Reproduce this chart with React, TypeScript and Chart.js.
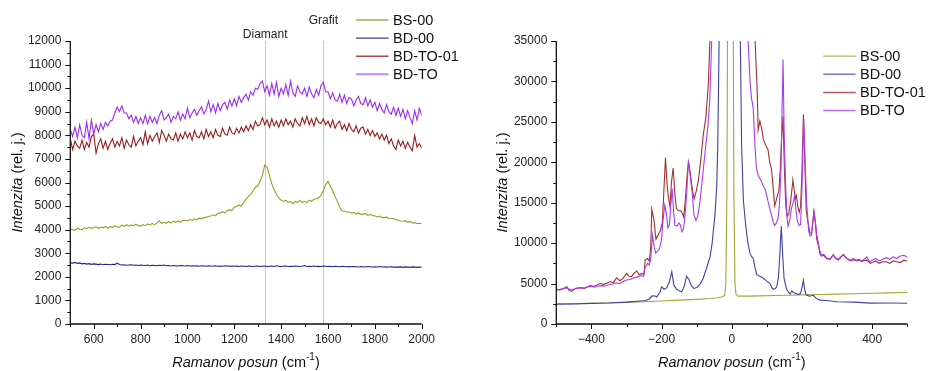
import React, { useEffect, useRef } from 'react';
import { Chart, registerables } from 'chart.js';
Chart.register(...registerables);

const FONT = '"Liberation Sans", Arial, sans-serif';

const seriesNames = ['BS-00', 'BD-00', 'BD-TO-01', 'BD-TO'];

// ---------- Left panel (Raman shift 500–2000) ----------
const leftX = Array.from({ length: 151 }, (_, i) => 500 + 10 * i);

const leftBS00 = [
  4050, 3990, 3980, 4070, 4010, 4000, 4090, 4040, 4110, 4050,
  4090, 4120, 4060, 4110, 4080, 4140, 4070, 4130, 4090, 4160,
  4120, 4100, 4190, 4140, 4210, 4150, 4200, 4160, 4230, 4170,
  4150, 4210, 4170, 4240, 4200, 4260, 4210, 4290, 4380, 4260,
  4310, 4270, 4340, 4290, 4360, 4310, 4370, 4320, 4390, 4400,
  4370, 4430, 4390, 4460, 4420, 4490, 4460, 4510, 4520, 4570,
  4580, 4630, 4590, 4690, 4700, 4760, 4710, 4810, 4840, 4820,
  4950, 4980, 5050, 5000, 5150, 5300, 5400, 5500, 5650, 5800,
  5850, 6050, 6300, 6750, 6650, 6300, 5950, 5700, 5500, 5350,
  5250, 5200, 5250, 5150, 5200, 5100, 5200, 5150, 5250, 5150,
  5200, 5150, 5250, 5200, 5300, 5300, 5350, 5450, 5650, 5900,
  6050, 5850, 5650, 5400, 5200, 4950, 4800, 4780, 4750, 4750,
  4700, 4730, 4670, 4710, 4650, 4660, 4690, 4610, 4650, 4590,
  4590, 4540, 4580, 4520, 4510, 4530, 4470, 4460, 4470, 4410,
  4410, 4370, 4360, 4380, 4310, 4350, 4290, 4290, 4260, 4270,
  4250,
];

const leftBD00 = [
  2600, 2580, 2610, 2570, 2590, 2550, 2570, 2540, 2560, 2530,
  2550, 2540, 2520, 2540, 2510, 2530, 2520, 2510, 2530, 2520,
  2580, 2520, 2500, 2510, 2490, 2500, 2510, 2490, 2500, 2480,
  2500, 2490, 2480, 2500, 2470, 2490, 2480, 2470, 2490, 2480,
  2500, 2470, 2480, 2460, 2480, 2470, 2460, 2480, 2470, 2460,
  2480, 2460, 2470, 2460, 2470, 2450, 2470, 2460, 2450, 2470,
  2460, 2450, 2470, 2450, 2460, 2450, 2470, 2460, 2450, 2460,
  2450, 2460, 2440, 2460, 2450, 2440, 2460, 2450, 2440, 2450,
  2460, 2440, 2450, 2460, 2440, 2450, 2460, 2440, 2470, 2450,
  2440, 2450, 2460, 2440, 2450, 2440, 2460, 2450, 2440, 2450,
  2480, 2440, 2450, 2440, 2460, 2440, 2450, 2440, 2460, 2450,
  2440, 2450, 2430, 2450, 2440, 2430, 2450, 2440, 2430, 2440,
  2430, 2440, 2430, 2420, 2440, 2430, 2420, 2440, 2430, 2420,
  2430, 2420, 2440, 2420, 2430, 2410, 2420, 2430, 2410, 2420,
  2410, 2420, 2400, 2420, 2410, 2400, 2420, 2410, 2400, 2410,
  2410,
];

const leftBDTO01 = [
  7850, 7400, 7750, 7550, 7450, 7800, 7400, 7700, 7500, 7950,
  8050, 7250, 7650, 7850, 7450, 7750, 7400, 7650, 7850, 7500,
  7750, 7550, 7900, 7450, 7800, 7600, 7500, 7950, 7550, 7750,
  7900, 7600, 8150, 7650, 8000, 7750, 7950, 8100, 7700, 8200,
  8000, 7750, 8050, 7850, 7800, 8100, 7750, 8050, 7850, 8150,
  7900, 8100, 7800, 8200, 7950, 7900, 8150, 7850, 8250, 7950,
  8150, 7900, 8250, 8000, 7950, 8300, 8050, 8000, 8350, 8100,
  8050, 8300, 8100, 8350, 8150, 8400, 8200, 8450, 8250, 8600,
  8400, 8450, 8750, 8450, 8650, 8350, 8700, 8400, 8600, 8350,
  8650, 8400, 8700, 8450, 8600, 8350, 8700, 8500, 8400, 8750,
  8500, 8800, 8450, 8700, 8400, 8750, 8550, 8500, 8700, 8450,
  8600, 8350, 8650, 8300, 8500, 8600, 8250, 8450, 8200, 8500,
  8250, 8150, 8400, 8100, 8300, 8350, 8050, 8250, 8000, 8200,
  7950, 8100, 7850, 8050, 7800, 8000, 7650, 7850, 7550, 7400,
  7800, 7550, 7750, 7450, 7700, 7500, 7350, 8000, 7500, 7650,
  7450,
];

const leftBDTO = [
  8250, 7950, 8350, 7900, 8450, 8000, 7900, 8550, 7850, 8650,
  8050, 8450, 8150, 8500, 8250, 8550, 8400, 8600, 8650, 8950,
  9200, 9000, 9250, 8950, 8950, 8700, 8850, 8550, 8800, 8500,
  8750, 8500, 8850, 8500, 8800, 8550, 8750, 8500, 8850, 9050,
  8650, 8750, 8900, 8550, 8800, 8700, 9000, 8650, 8900, 8700,
  9150, 8750, 8950, 9100, 8850, 9050, 9200, 8900, 9100, 9450,
  9000, 9300, 8950, 9350, 9050, 9300, 9400, 9100, 9500, 9250,
  9550, 9250, 9650, 9400, 9600, 9750, 9500, 9850, 9700, 10000,
  9950, 10200, 10300, 9850, 10100, 9700, 10200, 9750, 10250, 9650,
  10000, 9750, 10150, 9700, 10300, 9800, 9650, 10100, 9850, 9750,
  10000, 9650, 10050, 9750, 9600, 9950, 9700, 10100, 10250, 9850,
  9850, 9550, 9800, 9500, 9450, 9750, 9400, 9700, 9350, 9600,
  9550, 9250, 9500, 9650, 9350, 9300, 9600, 9250, 9500, 9200,
  9400, 9050, 9350, 9100, 8950, 9300, 9000, 8900, 9200, 8850,
  9150, 8800, 9100, 8700, 9050, 8750, 8500, 9050, 8650, 9150,
  8850,
];

const leftXTicks = [600, 800, 1000, 1200, 1400, 1600, 1800, 2000];
const leftXMinor = [500, 700, 900, 1100, 1300, 1500, 1700, 1900];
const leftYTicks = [0, 1000, 2000, 3000, 4000, 5000, 6000, 7000, 8000, 9000, 10000, 11000, 12000];
const leftYMinor = [500, 1500, 2500, 3500, 4500, 5500, 6500, 7500, 8500, 9500, 10500, 11500];
const markerLabels = ['Diamant', 'Grafit'];
const markerPositions = [1332, 1580];

// ---------- Right panel (Raman shift −500–500) ----------
const rightBS00: [number, number][] = [
  [-500, 2500], [-450, 2520], [-400, 2560], [-350, 2620], [-300, 2680], [-250, 2750], [-200, 2850],
  [-150, 2950], [-100, 3050], [-60, 3150], [-40, 3250], [-30, 3330], [-25, 3400], [-20, 3550],
  [-17, 5000], [-14, 16000], [-10, 60000], [-4, 200000], [2, 60000], [6, 16000], [9, 5000],
  [12, 3700], [16, 3500], [20, 3450], [40, 3450], [80, 3480], [120, 3520], [160, 3550],
  [200, 3600], [250, 3650], [300, 3700], [350, 3750], [400, 3800], [450, 3850], [500, 3900],
];

const rightBD00: [number, number][] = [
  [-500, 2450], [-450, 2480], [-400, 2550], [-350, 2600], [-300, 2700], [-260, 2850], [-245, 2900],
  [-235, 3100], [-228, 3450], [-220, 3500], [-214, 3350], [-205, 3900], [-200, 4600], [-193, 4300],
  [-185, 4500], [-178, 5200], [-171, 6450], [-165, 4800], [-157, 4300], [-150, 4100], [-143, 4000],
  [-136, 4600], [-129, 5900], [-122, 5500], [-115, 4700], [-108, 4400], [-100, 4500], [-91, 4900],
  [-82, 5600], [-72, 6900], [-62, 8300], [-56, 10000], [-52, 11800], [-48, 13500], [-43, 17000],
  [-40, 22000], [-36, 35500], [-30, 60000], [0, 250000], [24, 36000], [28, 22000], [33, 15300],
  [40, 12000], [46, 10000], [52, 8700], [57, 8300], [61, 8100], [66, 7000], [71, 6100],
  [80, 5900], [90, 5650], [100, 5300], [109, 5000], [114, 4500], [118, 4300], [124, 4400],
  [128, 4600], [133, 5800], [137, 8700], [141, 12100], [145, 8500], [149, 5600], [156, 4300],
  [162, 3900], [166, 3700], [171, 4100], [175, 3900], [182, 3800], [189, 3650], [196, 3800],
  [200, 4500], [204, 5400], [208, 4200], [212, 3600], [220, 3450], [227, 3500], [232, 3550],
  [240, 3200], [251, 2950], [270, 2900], [299, 2750], [350, 2700], [394, 2580], [450, 2600], [500, 2570],
];

const rightBDTO01: [number, number][] = [
  [-500, 4300], [-490, 4250], [-480, 4400], [-470, 4600], [-463, 4150], [-456, 4050], [-445, 4400],
  [-432, 4500], [-420, 4400], [-410, 4600], [-404, 4750], [-395, 4650], [-385, 4800], [-375, 5000],
  [-365, 4900], [-355, 5050], [-347, 5250], [-338, 5100], [-328, 5700], [-319, 5350], [-310, 5650],
  [-300, 6250], [-293, 5900], [-286, 5850], [-278, 6300], [-271, 6550], [-264, 6100], [-257, 6250],
  [-250, 6100], [-247, 7900], [-240, 8100], [-235, 7750], [-231, 9500], [-228, 14200], [-222, 12900],
  [-216, 10500], [-210, 11000], [-204, 11500], [-198, 12500], [-194, 16000], [-189, 20600], [-184, 17000],
  [-181, 15800], [-176, 14500], [-172, 17500], [-167, 19300], [-162, 16000], [-158, 14300], [-152, 14000],
  [-145, 14000], [-140, 13600], [-137, 13200], [-132, 15500], [-127, 18500], [-123, 20000], [-118, 18500],
  [-112, 16500], [-107, 15500], [-101, 16500], [-95, 17800], [-88, 20500], [-81, 23500], [-74, 25500],
  [-67, 29500], [-62, 35500], [-55, 50000], [0, 250000], [60, 50000], [66, 35500], [73, 28000],
  [75, 24000], [80, 25100], [85, 24200], [90, 22800], [94, 22400], [99, 21900], [103, 21600],
  [108, 20000], [113, 19200], [118, 16800], [122, 14600], [126, 15200], [130, 15900], [134, 16500],
  [138, 19000], [142, 23000], [146, 25700], [150, 19000], [154, 14500], [158, 13300], [162, 13600],
  [167, 15000], [171, 16500], [174, 17800], [178, 16500], [181, 15500], [184, 15900], [188, 14500],
  [192, 13800], [196, 14500], [200, 19000], [204, 25900], [208, 20000], [212, 14000], [217, 12600],
  [222, 11300], [227, 11200], [231, 12800], [234, 13900], [238, 12500], [242, 10500], [246, 9800],
  [251, 8700], [255, 8400], [262, 8500], [270, 8100], [280, 8000], [289, 8600], [296, 8100],
  [303, 7900], [310, 8200], [318, 8600], [325, 8200], [333, 7900], [340, 7800], [346, 7950],
  [355, 7800], [362, 7900], [370, 7700], [377, 7850], [384, 7900], [390, 7700], [394, 7500],
  [400, 7600], [410, 7800], [420, 7500], [430, 7700], [441, 7700], [450, 7500], [460, 7800],
  [470, 7700], [480, 7600], [490, 7900], [500, 7750],
];

const rightBDTO: [number, number][] = [
  [-500, 4250], [-490, 4200], [-480, 4350], [-470, 4450], [-463, 4300], [-456, 4200], [-445, 4400],
  [-432, 4500], [-420, 4450], [-410, 4600], [-400, 4650], [-390, 4550], [-380, 4700], [-370, 4750],
  [-360, 4700], [-350, 4850], [-340, 4950], [-330, 5100], [-320, 5000], [-310, 5250], [-300, 5450],
  [-290, 5500], [-280, 5700], [-270, 5800], [-260, 6000], [-252, 5900], [-247, 7000], [-240, 7500],
  [-235, 7300], [-231, 8000], [-226, 11000], [-221, 9500], [-217, 8800], [-212, 9000], [-206, 9300],
  [-200, 10500], [-196, 12800], [-191, 14700], [-186, 13500], [-182, 11900], [-178, 12200], [-174, 14500],
  [-170, 16800], [-166, 14000], [-162, 12200], [-156, 12100], [-151, 12500], [-147, 12300], [-142, 11400],
  [-138, 11700], [-134, 13000], [-128, 16500], [-124, 20200], [-119, 18500], [-113, 16300], [-108, 13500],
  [-102, 12800], [-97, 13300], [-91, 15000], [-85, 17500], [-76, 21300], [-68, 24500], [-63, 27500],
  [-57, 35500], [-50, 60000], [0, 250000], [40, 60000], [46, 35500], [52, 30000], [56, 28000],
  [61, 26700], [66, 22000], [70, 19300], [75, 18400], [80, 18000], [85, 17600], [90, 17000],
  [94, 16800], [99, 16000], [103, 15200], [108, 14300], [113, 13500], [118, 12600], [122, 12200],
  [127, 12500], [132, 13100], [136, 15000], [140, 19000], [143, 26000], [146, 32700], [149, 24000],
  [153, 17600], [157, 13500], [160, 12100], [165, 12800], [170, 14300], [175, 15000], [179, 15800],
  [183, 14000], [187, 12700], [192, 12200], [196, 12300], [200, 17000], [205, 25400], [209, 20000],
  [213, 15100], [219, 11500], [223, 10900], [227, 11000], [231, 12500], [234, 13900], [238, 12800],
  [242, 11000], [246, 10200], [251, 9000], [255, 8500], [262, 8600], [270, 8200], [280, 8000],
  [289, 8500], [296, 8200], [303, 8000], [310, 8300], [318, 8600], [325, 8200], [333, 8000],
  [340, 7900], [346, 8100], [355, 7900], [362, 8000], [370, 7800], [377, 8000], [384, 8300],
  [390, 7900], [394, 7700], [400, 7900], [410, 8100], [420, 7800], [430, 8000], [441, 8200],
  [450, 8000], [460, 8300], [470, 8100], [480, 8400], [490, 8500], [500, 8300],
];

const rightXTicks = [-400, -200, 0, 200, 400];
const rightXMinor = [-500, -300, -100, 100, 300, 500];
const rightYTicks = [0, 5000, 10000, 15000, 20000, 25000, 30000, 35000];
const rightYMinor = [2500, 7500, 12500, 17500, 22500, 27500, 32500];

type DS = { label: string; points: { x: number; y: number }[]; color: string; order: number };
type Cfg = {
  left: number;
  xMin: number; xMax: number; yMax: number;
  xTicks: number[]; xMinor: number[]; yTicks: number[]; yMinor: number[];
  yAxisWidth: number; padRight: number;
  datasets: DS[];
  legend: { x1: number; x2: number; tx: number; rows: number[]; colors: string[]; widths: number[] };
  yTitleX: number;
  markers?: { label: string; x: number; ty: number }[];
};

const fmt = (v: number) => (v < 0 ? '\u2212' + Math.abs(v) : String(v));

function overlay(cfg: Cfg) {
  return {
    id: 'overlay',
    beforeDatasetsDraw(chart: any) {
      const ctx = chart.ctx;
      const { top, bottom } = chart.chartArea;
      if (cfg.markers) {
        ctx.save();
        ctx.strokeStyle = '#c8c8c8';
        ctx.lineWidth = 1;
        for (const m of cfg.markers) {
          const p = Math.round(chart.scales.x.getPixelForValue(m.x)) + 0.5;
          ctx.beginPath();
          ctx.moveTo(p, top);
          ctx.lineTo(p, bottom);
          ctx.stroke();
        }
        ctx.restore();
      }
    },
    afterDraw(chart: any) {
      const ctx = chart.ctx;
      const { left, right, top, bottom } = chart.chartArea;
      const xs = chart.scales.x;
      const ys = chart.scales.y;
      ctx.save();
      ctx.strokeStyle = '#111';
      ctx.lineWidth = 1.3;
      ctx.beginPath();
      ctx.moveTo(left, top);
      ctx.lineTo(left, bottom);
      ctx.lineTo(right, bottom);
      ctx.stroke();
      ctx.lineWidth = 1;
      const tick = (x1: number, y1: number, x2: number, y2: number) => {
        ctx.beginPath();
        ctx.moveTo(x1, y1);
        ctx.lineTo(x2, y2);
        ctx.stroke();
      };
      for (const v of cfg.xTicks) {
        const p = Math.round(xs.getPixelForValue(v)) + 0.5;
        tick(p, bottom, p, bottom + 5);
      }
      for (const v of cfg.xMinor) {
        const p = Math.round(xs.getPixelForValue(v)) + 0.5;
        tick(p, bottom, p, bottom + 3);
      }
      for (const v of cfg.yTicks) {
        const p = Math.round(ys.getPixelForValue(v)) + 0.5;
        tick(left, p, left - 5, p);
      }
      for (const v of cfg.yMinor) {
        const p = Math.round(ys.getPixelForValue(v)) + 0.5;
        tick(left, p, left - 3, p);
      }
      ctx.fillStyle = '#111';
      ctx.save();
      ctx.translate(cfg.yTitleX, (top + bottom) / 2);
      ctx.rotate(-Math.PI / 2);
      ctx.textBaseline = 'middle';
      ctx.textAlign = 'left';
      const fi = `italic 14.5px ${FONT}`;
      const fn = `14.5px ${FONT}`;
      ctx.font = fi;
      const w1 = ctx.measureText('Intenzita').width;
      ctx.font = fn;
      const w2 = ctx.measureText(' (rel. j.)').width;
      const sx = -(w1 + w2) / 2;
      ctx.font = fi;
      ctx.fillText('Intenzita', sx, 0);
      ctx.font = fn;
      ctx.fillText(' (rel. j.)', sx + w1, 0);
      ctx.restore();
      const cy = 363;
      ctx.textBaseline = 'middle';
      ctx.textAlign = 'left';
      ctx.font = fi;
      const a = ctx.measureText('Ramanov posun').width;
      ctx.font = fn;
      const b = ctx.measureText(' (cm').width;
      const d = ctx.measureText(')').width;
      ctx.font = `10px ${FONT}`;
      const c = ctx.measureText('-1').width;
      let x0 = (left + right) / 2 - (a + b + c + d) / 2;
      ctx.font = fi;
      ctx.fillText('Ramanov posun', x0, cy);
      x0 += a;
      ctx.font = fn;
      ctx.fillText(' (cm', x0, cy);
      x0 += b;
      ctx.font = `10px ${FONT}`;
      ctx.fillText('-1', x0, cy - 6);
      x0 += c;
      ctx.font = fn;
      ctx.fillText(')', x0, cy);
      if (cfg.markers) {
        ctx.font = `12px ${FONT}`;
        ctx.textAlign = 'center';
        ctx.fillStyle = '#222';
        for (const m of cfg.markers) {
          ctx.fillText(m.label, xs.getPixelForValue(m.x), m.ty);
        }
      }
      const lg = cfg.legend;
      ctx.font = `14.5px ${FONT}`;
      ctx.textAlign = 'left';
      ctx.textBaseline = 'middle';
      seriesNames.forEach((name, i) => {
        const y = lg.rows[i];
        ctx.strokeStyle = lg.colors[i];
        ctx.lineWidth = lg.widths[i];
        tick(lg.x1, y + 0.5, lg.x2, y + 0.5);
        ctx.fillStyle = '#111';
        ctx.fillText(name, lg.tx, y + 1);
      });
      ctx.restore();
    },
  };
}

function Panel({ cfg }: { cfg: Cfg }) {
  const ref = useRef<HTMLCanvasElement>(null);
  useEffect(() => {
    const tickOpts = (pad: number) => ({
      color: '#222',
      font: { family: FONT, size: 12 },
      padding: pad,
      autoSkip: false,
      maxRotation: 0,
      minRotation: 0,
      callback: (v: any) => fmt(Number(v)),
    });
    const chart = new Chart(ref.current as HTMLCanvasElement, {
      type: 'line',
      data: {
        datasets: cfg.datasets.map((d) => ({
          label: d.label,
          data: d.points,
          borderColor: d.color,
          borderWidth: 1.1,
          pointRadius: 0,
          fill: false,
          tension: 0,
          order: d.order,
        })),
      },
      options: {
        responsive: false,
        animation: false,
        devicePixelRatio: 1,
        events: [],
        layout: { padding: { left: 0, top: 41, right: cfg.padRight, bottom: 0 } },
        plugins: { legend: { display: false }, tooltip: { enabled: false }, title: { display: false } },
        scales: {
          x: {
            type: 'linear',
            min: cfg.xMin,
            max: cfg.xMax,
            grid: { display: false, drawTicks: false },
            border: { display: false },
            ticks: tickOpts(8),
            afterBuildTicks: (s: any) => {
              s.ticks = cfg.xTicks.map((v) => ({ value: v }));
            },
            afterFit: (s: any) => {
              s.height = 47;
            },
          },
          y: {
            type: 'linear',
            min: 0,
            max: cfg.yMax,
            grid: { display: false, drawTicks: false },
            border: { display: false },
            ticks: tickOpts(9),
            afterBuildTicks: (s: any) => {
              s.ticks = cfg.yTicks.map((v) => ({ value: v }));
            },
            afterFit: (s: any) => {
              s.width = cfg.yAxisWidth;
            },
          },
        },
      } as any,
      plugins: [overlay(cfg)],
    });
    return () => chart.destroy();
  }, []);
  return (
    <canvas
      ref={ref}
      width={464}
      height={371}
      style={{ position: 'absolute', left: cfg.left, top: 0, width: 464, height: 371 }}
    />
  );
}

const toPts = (xs: number[], ys: number[]) => xs.map((x, i) => ({ x, y: ys[i] }));
const pairPts = (p: [number, number][]) => p.map(([x, y]) => ({ x, y }));

const leftCfg: Cfg = {
  left: 0,
  xMin: 500,
  xMax: 2000,
  yMax: 12000,
  xTicks: leftXTicks,
  xMinor: leftXMinor,
  yTicks: leftYTicks,
  yMinor: leftYMinor,
  yAxisWidth: 70.3,
  padRight: 42.3,
  datasets: [
    { label: seriesNames[0], points: toPts(leftX, leftBS00), color: '#9a9a2a', order: 3 },
    { label: seriesNames[1], points: toPts(leftX, leftBD00), color: '#22228e', order: 2 },
    { label: seriesNames[2], points: toPts(leftX, leftBDTO01), color: '#971b1b', order: 1 },
    { label: seriesNames[3], points: toPts(leftX, leftBDTO), color: '#9a2cf2', order: 0 },
  ],
  legend: {
    x1: 356, x2: 388.5, tx: 393,
    rows: [19.5, 37.7, 55.7, 73.7],
    colors: ['#a8a855', '#3a3aa0', '#b04848', '#c585ff'],
    widths: [1.3, 1.3, 1.5, 2],
  },
  yTitleX: 17.5,
  markers: [
    { label: markerLabels[0], x: markerPositions[0], ty: 34.5 },
    { label: markerLabels[1], x: markerPositions[1], ty: 20.5 },
  ],
};

const rightCfg: Cfg = {
  left: 464,
  xMin: -500,
  xMax: 500,
  yMax: 35000,
  xTicks: rightXTicks,
  xMinor: rightXMinor,
  yTicks: rightYTicks,
  yMinor: rightYMinor,
  yAxisWidth: 92.3,
  padRight: 20.7,
  datasets: [
    { label: seriesNames[0], points: pairPts(rightBS00), color: '#a5a534', order: 3 },
    { label: seriesNames[1], points: pairPts(rightBD00), color: '#4040ac', order: 2 },
    { label: seriesNames[2], points: pairPts(rightBDTO01), color: '#a52e2e', order: 1 },
    { label: seriesNames[3], points: pairPts(rightBDTO), color: '#a43cf4', order: 0 },
  ],
  legend: {
    x1: 359.3, x2: 391.7, tx: 396,
    rows: [55.7, 73.7, 92, 110],
    colors: ['#b5b560', '#7777c4', '#bd5c5c', '#b46cff'],
    widths: [1.3, 1.5, 1.5, 1.5],
  },
  yTitleX: 39.3,
};

export default function App() {
  return (
    <div style={{ position: 'fixed', left: 0, top: 0, width: 928, height: 371, background: '#fff' }}>
      <Panel cfg={leftCfg} />
      <Panel cfg={rightCfg} />
    </div>
  );
}
